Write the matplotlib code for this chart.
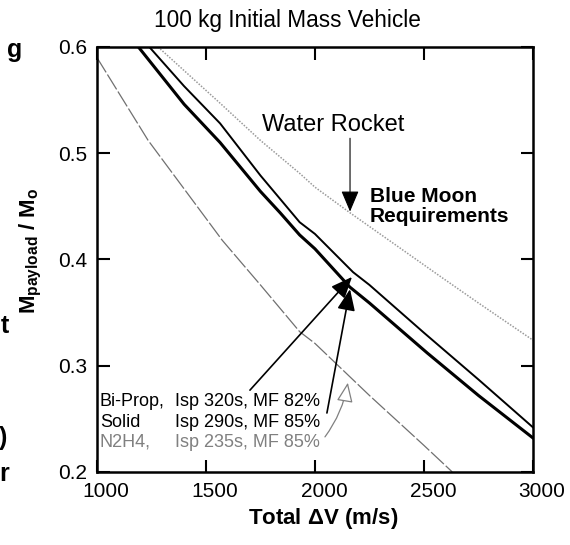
import numpy as np
import matplotlib
matplotlib.use('Agg')
import matplotlib.pyplot as plt
import matplotlib.transforms as mtransforms

plt.rcParams['font.family'] = ['Liberation Sans', 'DejaVu Sans']
plt.rcParams['mathtext.default'] = 'regular'

# values (total delta-V in m/s, payload mass fraction)
dv_biprop = [1240, 1400, 1565, 1750, 1930, 2000, 2175, 2250, 2500, 2750, 3000]
f_biprop = [0.600, 0.563, 0.528, 0.479, 0.435, 0.424, 0.388, 0.376, 0.331, 0.287, 0.242]

dv_solid = [1190, 1400, 1565, 1750, 1840, 1930, 2000, 2160, 2250, 2515, 2750, 3000]
f_solid = [0.600, 0.546, 0.510, 0.464, 0.444, 0.423, 0.410, 0.374, 0.359, 0.312, 0.272, 0.232]

dv_water = [1280, 1565, 1750, 1930, 2000, 2160, 2575, 2750, 3000]
f_water = [0.600, 0.547, 0.512, 0.481, 0.468, 0.444, 0.384, 0.359, 0.324]

dv_n2h4 = [1000, 1235, 1575, 1750, 1930, 2000, 2250, 2500, 2630]
f_n2h4 = [0.590, 0.512, 0.418, 0.376, 0.332, 0.321, 0.272, 0.225, 0.200]

x_ticks = [1000, 1500, 2000, 2500, 3000]
y_ticks = [0.2, 0.3, 0.4, 0.5, 0.6]

fig = plt.figure(figsize=(5.7, 5.45), dpi=100)
ax = fig.add_axes([0.170, 0.134, 0.765, 0.780])

ax.plot(dv_water, f_water, color='#9a9a9a', lw=1.1, ls=(0, (1, 1)))
ax.plot(dv_n2h4, f_n2h4, color='#707070', lw=0.9, ls=(0, (14, 2)))
ax.plot(dv_biprop, f_biprop, color='black', lw=1.4)
ax.plot(dv_solid, f_solid, color='black', lw=2.2)

ax.set_xlim(1000, 3000)
ax.set_ylim(0.2, 0.6)
ax.set_xticks(x_ticks)
ax.set_yticks(y_ticks)
ax.set_yticklabels(['%.1f' % v for v in y_ticks])
ax.tick_params(direction='in', length=9, width=1.5, labelsize=15,
               top=True, right=True, pad=7)
# the scanned x tick labels sit a little right of their ticks
shift = mtransforms.ScaledTranslation(0.09, 0, fig.dpi_scale_trans)
for lab in ax.get_xticklabels():
    lab.set_transform(lab.get_transform() + shift)
for sp in ax.spines.values():
    sp.set_linewidth(1.8)

ax.set_xlabel(r'Total $\Delta$V (m/s)', fontsize=16, fontweight='bold')
ax.xaxis.set_label_coords(0.518, -0.08)
ax.set_ylabel(r'M$_{payload}$ / M$_{o}$', fontsize=16, fontweight='bold')
ax.yaxis.set_label_coords(-0.122, 0.52)

fig.text(0.5035, 0.963, '100 kg Initial Mass Vehicle', ha='center', va='center',
         fontsize=16.3)

# annotations
ax.text(2083, 0.5266, 'Water Rocket', ha='center', va='center', fontsize=17)
ax.annotate('', xy=(2161, 0.445), xytext=(2161, 0.514),
            arrowprops=dict(arrowstyle='-|>,head_length=1.3,head_width=0.55',
                            mutation_scale=10, color='black', lw=0.8,
                            shrinkA=0, shrinkB=0))
ax.text(2252, 0.450, 'Blue Moon\nRequirements', ha='left', va='center',
        fontsize=15, fontweight='bold', linespacing=1.05)

ax.annotate('', xy=(2170, 0.3835), xytext=(1702, 0.277),
            arrowprops=dict(arrowstyle='-|>,head_length=1.3,head_width=0.55',
                            mutation_scale=10, color='black', lw=1.2,
                            shrinkA=0, shrinkB=0))
ax.annotate('', xy=(2161, 0.372), xytext=(2055, 0.2555),
            arrowprops=dict(arrowstyle='-|>,head_length=1.3,head_width=0.55',
                            mutation_scale=10, color='black', lw=1.2,
                            shrinkA=0, shrinkB=0))
ax.annotate('', xy=(2151, 0.284), xytext=(2046, 0.233),
            arrowprops=dict(arrowstyle='-|>,head_length=1.2,head_width=0.5',
                            mutation_scale=10, fc='white', ec='#808080', lw=0.9,
                            connectionstyle='arc3,rad=0.12',
                            shrinkA=0, shrinkB=0))

rows = [('Bi-Prop,', 'Isp 320s, MF 82%', 'black', 0.266),
        ('Solid', 'Isp 290s, MF 85%', 'black', 0.247),
        ('N2H4,', 'Isp 235s, MF 85%', '#808080', 0.228)]
for name, spec, col, yy in rows:
    ax.text(1014, yy, name, ha='left', va='center', fontsize=13, color=col)
    ax.text(1358, yy, spec, ha='left', va='center', fontsize=13, color=col)

# cut-off letters from the neighbouring page at the left edge
for ch, xp, yp in [('g', 22, 57), ('t', 9, 333), (')', 7, 445), ('r', 9, 481)]:
    fig.text(xp / 570, 1 - yp / 545, ch, ha='right', va='baseline',
             fontsize=18, fontweight='bold')

fig.savefig('out.png', dpi=100)
